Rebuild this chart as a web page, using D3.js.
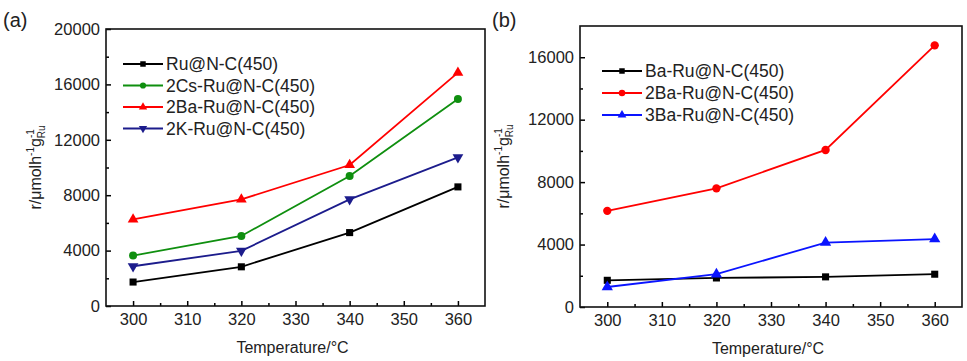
<!DOCTYPE html>
<html>
<head>
<meta charset="utf-8">
<script src="https://cdn.jsdelivr.net/npm/d3@7"></script>
<style>
  body { margin: 0; background: #fff; }
  text { font-family: "Liberation Sans", Arial, sans-serif; fill: #222; }
</style>
</head>
<body>
<svg id="chart" width="967" height="361"></svg>
<script>
// temperatures (x)
var temps = [300, 320, 340, 360];
var xTicks = [300, 310, 320, 330, 340, 350, 360];
var xMinor = [305, 315, 325, 335, 345, 355];

// panel (a)
var ruNC   = [1730, 2830, 5300, 8600];
var csRuNC = [3640, 5060, 9380, 14950];
var baRuNCa = [6250, 7700, 10180, 16850];
var kRuNC  = [2870, 3980, 7700, 10730];
var yTicksA = [0, 4000, 8000, 12000, 16000, 20000];
var yMinorA = [2000, 6000, 10000, 14000, 18000];

// panel (b)
var baRuNC  = [1710, 1860, 1930, 2100];
var baRuNCb = [6160, 7600, 10060, 16760];
var ba3RuNC = [1280, 2100, 4130, 4350];
var yTicksB = [0, 4000, 8000, 12000, 16000];
var yMinorB = [2000, 6000, 10000, 14000];

var svg = d3.select("#chart");

function drawPanel(p)
{
    var x = d3.scaleLinear().domain([295, 365]).range([p.left, p.right]);
    var y = d3.scaleLinear().domain([0, p.ymax]).range([p.bottom, p.top]);
    var g = svg.append("g");

    // x axis, ticks pointing in
    g.append("g").attr("transform", "translate(0," + p.bottom + ")")
        .call(d3.axisBottom(x).tickValues(xTicks).tickSize(-5).tickPadding(7).tickFormat(d3.format("d")))
        .call(function(a){ a.select(".domain").remove(); });
    g.append("g").attr("transform", "translate(0," + p.bottom + ")")
        .call(d3.axisBottom(x).tickValues(xMinor).tickSize(-3).tickFormat(""))
        .call(function(a){ a.select(".domain").remove(); });

    g.append("g").attr("transform", "translate(" + p.left + ",0)")
        .call(d3.axisLeft(y).tickValues(p.yTicks).tickSize(-5).tickPadding(6).tickFormat(d3.format("d")))
        .call(function(a){ a.select(".domain").remove(); });
    g.append("g").attr("transform", "translate(" + p.left + ",0)")
        .call(d3.axisLeft(y).tickValues(p.yMinor).tickSize(-3).tickFormat(""))
        .call(function(a){ a.select(".domain").remove(); });

    g.selectAll(".tick line").attr("stroke", "#000").attr("stroke-width", 1.5);
    g.selectAll(".tick text").attr("font-size", 16.5).attr("fill", "#1a1a1a")
        .attr("font-family", "Liberation Sans, Arial, sans-serif");

    g.append("rect")
        .attr("x", p.left).attr("y", p.top)
        .attr("width", p.right - p.left).attr("height", p.bottom - p.top)
        .attr("fill", "none").attr("stroke", "#111").attr("stroke-width", 1.6);

    var line = d3.line().x(function(d, i){ return x(temps[i]); }).y(function(d){ return y(d); });

    p.series.forEach(function(s)
    {
        g.append("path").datum(s.values)
            .attr("d", line)
            .attr("fill", "none").attr("stroke", s.color).attr("stroke-width", 1.8);

        g.selectAll(null).data(s.values).enter()
            .append("path")
            .attr("d", d3.symbol().type(s.shape).size(s.size))
            .attr("transform", function(d, i){ return "translate(" + x(temps[i]) + "," + y(d) + ")" + (s.flip ? " rotate(180)" : ""); })
            .attr("fill", s.color);
    });

    // legend
    p.series.forEach(function(s, i)
    {
        var ly = p.legY + i * p.legStep;
        g.append("line").attr("x1", p.legX).attr("x2", p.legX + 40)
            .attr("y1", ly).attr("y2", ly)
            .attr("stroke", s.color).attr("stroke-width", 1.8);
        g.append("path")
            .attr("d", d3.symbol().type(s.shape).size(s.size * 0.6))
            .attr("transform", "translate(" + (p.legX + 20) + "," + ly + ")" + (s.flip ? " rotate(180)" : ""))
            .attr("fill", s.color);
        g.append("text").text(s.name)
            .attr("x", p.legX + 43).attr("y", ly).attr("dy", "0.35em")
            .attr("font-size", 17.5).attr("fill", "#1a1a1a");
    });

    // axis titles
    var cy = (p.top + p.bottom) / 2;
    var yl = g.append("text")
        .attr("transform", "translate(" + p.ylabX + "," + cy + ") rotate(-90)")
        .attr("text-anchor", "middle")
        .attr("font-size", 16);
    yl.append("tspan").text("r/\u03bcmolh");
    yl.append("tspan").text("-1").attr("font-size", 10).attr("dy", -7);
    yl.append("tspan").text("g").attr("dy", 7);
    yl.append("tspan").text("-1").attr("font-size", 10).attr("dy", -7);
    yl.append("tspan").text("Ru").attr("font-size", 10).attr("dx", -9).attr("dy", 11);

    g.append("text").text("Temperature/\u00b0C")
        .attr("x", (p.left + p.right) / 2 - 3).attr("y", p.bottom + 47)
        .attr("text-anchor", "middle").attr("font-size", 16);

    g.append("text").text(p.tag)
        .attr("x", p.tagX).attr("y", 27)
        .attr("font-size", 20);
}

drawPanel({
    left: 106, right: 485, top: 29, bottom: 306, ymax: 20000,
    yTicks: yTicksA, yMinor: yMinorA,
    legX: 123, legY: 64, legStep: 21.5, ylabX: 41, tag: "(a)", tagX: 3,
    series: [
        { name: "Ru@N-C(450)",     values: ruNC,    color: "#000000", shape: d3.symbolSquare,   size: 50 },
        { name: "2Cs-Ru@N-C(450)", values: csRuNC,  color: "#0f8f0f", shape: d3.symbolCircle,   size: 50 },
        { name: "2Ba-Ru@N-C(450)", values: baRuNCa, color: "#ff0000", shape: d3.symbolTriangle, size: 50 },
        { name: "2K-Ru@N-C(450)",  values: kRuNC,   color: "#1c1c8c", shape: d3.symbolTriangle, size: 50, flip: true }
    ]
});

drawPanel({
    left: 580, right: 962, top: 26, bottom: 307, ymax: 18000,
    yTicks: yTicksB, yMinor: yMinorB,
    legX: 602, legY: 71, legStep: 22, ylabX: 509, tag: "(b)", tagX: 492,
    series: [
        { name: "Ba-Ru@N-C(450)",  values: baRuNC,  color: "#000000", shape: d3.symbolSquare,   size: 50 },
        { name: "2Ba-Ru@N-C(450)", values: baRuNCb, color: "#ff0000", shape: d3.symbolCircle,   size: 55 },
        { name: "3Ba-Ru@N-C(450)", values: ba3RuNC, color: "#0a14ff", shape: d3.symbolTriangle, size: 55 }
    ]
});
</script>
</body>
</html>
